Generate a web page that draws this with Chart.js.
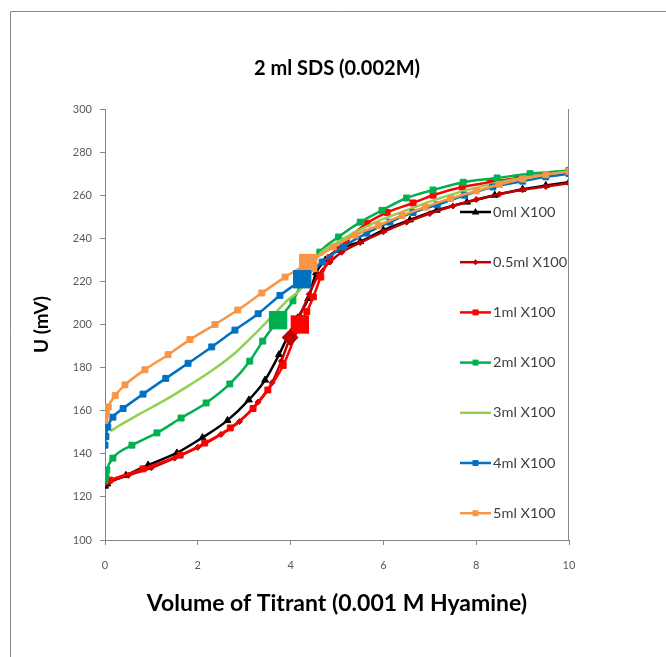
<!DOCTYPE html>
<html>
<head>
<meta charset="utf-8">
<script src="https://cdn.jsdelivr.net/npm/chart.js@4.4.1/dist/chart.umd.min.js"></script>
<style>
html,body{margin:0;padding:0;background:#fff;}
canvas{display:block;}
</style>
</head>
<body>
<canvas id="c" width="666" height="657"></canvas>
<script>
// ---------- data ----------
const seriesLabels = ['0ml X100', '0.5ml X100', '1ml X100', '2ml X100', '3ml X100', '4ml X100', '5ml X100'];

const vol0ml = [0, 0.05, 0.45, 0.93, 1.55, 2.1, 2.64, 3.1, 3.45, 3.75, 3.95, 4.15, 4.38, 4.55, 4.75, 5.0, 5.5, 6.0, 6.57, 7.15, 7.8, 8.4, 9.0, 9.5, 10];
const u0ml   = [125, 126, 130, 134.8, 140.4, 147.5, 155.5, 165, 174.2, 186, 195, 203, 212, 224, 230, 234.5, 238.5, 243.8, 248.5, 253, 256.8, 260, 262.8, 264.5, 266];

const vol05ml = [0, 0.1, 0.5, 1.0, 1.5, 2.0, 2.5, 2.9, 3.3, 3.6, 3.8, 3.99, 4.2, 4.4, 4.6, 4.85, 5.1, 5.5, 6.0, 6.5, 7.0, 7.5, 8.0, 8.5, 9.0, 9.5, 10];
const u05ml   = [126, 127, 130, 133.5, 138, 143, 149, 155, 164, 173, 183, 194, 204, 214, 223, 229, 233.5, 238, 243, 247.5, 251.5, 255, 258, 260.5, 262.5, 264, 265.5];

const vol1ml = [0, 0.1, 0.82, 1.62, 2.15, 2.7, 3.19, 3.51, 3.84, 4.2, 4.35, 4.49, 4.65, 4.85, 5.2, 5.65, 6.08, 6.64, 7.07, 7.7, 8.3, 8.9, 9.5, 10];
const u1ml   = [127, 127.8, 133, 139.4, 145, 152, 161, 169.6, 181, 200, 206, 212.8, 222, 231, 239, 247, 252, 256.4, 260, 263.8, 266, 268, 269.5, 271];

const vol2ml = [0, 0.02, 0.04, 0.17, 0.58, 1.12, 1.64, 2.18, 2.69, 3.12, 3.4, 3.73, 4.05, 4.3, 4.63, 5.03, 5.5, 5.97, 6.5, 7.07, 7.72, 8.45, 9.16, 10];
const u2ml   = [127.8, 130, 132.5, 138, 144, 149.7, 156.6, 163.6, 172.4, 183, 192.3, 202, 211, 222, 233.6, 240.6, 247.5, 253, 258.7, 262.4, 266, 268, 270, 271.5];

const vol3ml = [0.12, 0.3, 0.75, 1.3, 1.83, 2.33, 2.84, 3.27, 3.7, 3.92, 4.24, 4.6, 5.0, 5.5, 6.0, 6.5, 7.0, 7.5, 8.0, 8.5, 9.0, 9.5, 10];
const u3ml   = [150.5, 153, 158.5, 165, 172, 179, 187.5, 196.5, 206, 211, 217, 232, 238, 244, 249, 253, 257, 260.5, 263.5, 266, 268, 269.5, 271];

const vol4ml = [0, 0.02, 0.06, 0.17, 0.39, 0.82, 1.31, 1.79, 2.3, 2.8, 3.3, 3.77, 4.25, 4.68, 5.13, 5.64, 6.14, 6.64, 7.16, 7.75, 8.36, 9.0, 9.5, 10];
const u4ml   = [144, 148, 152.4, 157, 161, 167.7, 175, 182, 189.6, 197.4, 205, 213.5, 221, 229, 236, 242.4, 247.5, 252, 255.5, 260, 263.8, 266.5, 268.5, 270];

const vol5ml = [0, 0.03, 0.07, 0.22, 0.43, 0.86, 1.36, 1.83, 2.37, 2.86, 3.38, 3.88, 4.38, 4.92, 5.39, 5.89, 6.4, 6.9, 7.45, 8.0, 8.5, 9.0, 9.5, 10];
const u5ml   = [155.7, 158.5, 161.7, 167, 172, 179, 186, 193, 200, 206.7, 214.6, 222, 228.5, 236, 241.5, 246, 250.5, 254.5, 258.5, 262, 265, 267.5, 269.5, 271];

// equivalence (end) points, highlighted with big markers
const eqSeries = [1, 2, 3, 5, 6];          // index into seriesLabels
const eqVol    = [3.99, 4.2, 3.73, 4.25, 4.38];
const eqU      = [194, 200, 202, 221, 228.5];

const xTicks = [0, 2, 4, 6, 8, 10];
const yTicks = [100, 120, 140, 160, 180, 200, 220, 240, 260, 280, 300];

const chartTitle = '2 ml SDS (0.002M)';
const xTitle = 'Volume of Titrant (0.001 M Hyamine)';
const yTitle = 'U (mV)';

// ---------- styles ----------
const FONT = 'Lato';
const colors = ['#000000', '#C00000', '#FF0000', '#00B050', '#92D050', '#0070C0', '#F79646'];
const pointStyles = ['triangle', 'rectRot', 'rect', 'rect', 'circle', 'rect', 'rect'];
const pointRadii = [4, 3, 4.2, 4.2, 0, 4.2, 4.2];
const bigRadii = { rect: 13, rectRot: 8.5 };

const seriesX = [vol0ml, vol05ml, vol1ml, vol2ml, vol3ml, vol4ml, vol5ml];
const seriesY = [u0ml, u05ml, u1ml, u2ml, u3ml, u4ml, u5ml];

const datasets = seriesX.map((xs, i) => ({
  label: seriesLabels[i],
  data: xs.map((x, j) => ({ x: x, y: seriesY[i][j] })),
  showLine: true,
  borderColor: colors[i],
  backgroundColor: colors[i],
  borderWidth: 2.5,
  pointStyle: pointStyles[i],
  pointRadius: pointRadii[i],
  pointBorderWidth: 1,
  pointHoverRadius: pointRadii[i],
  cubicInterpolationMode: 'monotone',
  order: 20 - i
}));

eqSeries.forEach((s, k) => {
  datasets.push({
    label: 'eq-' + seriesLabels[s],
    isEq: true,
    data: [{ x: eqVol[k], y: eqU[k] }],
    showLine: false,
    borderColor: colors[s],
    backgroundColor: colors[s],
    pointStyle: pointStyles[s],
    pointRadius: bigRadii[pointStyles[s]],
    pointBorderWidth: 0,
    order: 0
  });
});

// ---------- plugins ----------
const framePlugin = {
  id: 'frame',
  beforeDraw(chart) {
    const ctx = chart.ctx;
    ctx.save();
    ctx.fillStyle = '#ffffff';
    ctx.fillRect(0, 0, chart.width, chart.height);
    ctx.strokeStyle = '#888888';
    ctx.lineWidth = 1;
    ctx.beginPath();
    ctx.moveTo(10.5, chart.height + 1);
    ctx.lineTo(10.5, 11.5);
    ctx.lineTo(chart.width + 1, 11.5);
    ctx.stroke();
    ctx.restore();
  },
  afterDraw(chart) {
    const a = chart.chartArea, ctx = chart.ctx;
    ctx.save();
    ctx.strokeStyle = '#868686';
    ctx.lineWidth = 1;
    ctx.beginPath();
    ctx.moveTo(Math.round(a.right) - 0.5, a.top);
    ctx.lineTo(Math.round(a.right) - 0.5, a.bottom);
    ctx.stroke();
    ctx.restore();
  }
};

function drawMarker(ctx, style, x, y, r) {
  ctx.beginPath();
  if (style === 'triangle') {
    ctx.moveTo(x, y - r);
    ctx.lineTo(x + r * 0.95, y + r * 0.6);
    ctx.lineTo(x - r * 0.95, y + r * 0.6);
    ctx.closePath();
  } else if (style === 'rectRot') {
    ctx.moveTo(x, y - r);
    ctx.lineTo(x + r, y);
    ctx.lineTo(x, y + r);
    ctx.lineTo(x - r, y);
    ctx.closePath();
  } else if (style === 'rect') {
    const s = r * Math.SQRT1_2;
    ctx.rect(x - s, y - s, 2 * s, 2 * s);
  } else {
    return;
  }
  ctx.fill();
}

const legendPlugin = {
  id: 'sideLegend',
  afterDraw(chart) {
    const a = chart.chartArea, ctx = chart.ctx;
    const x0 = a.right - 109, y0 = a.top + 103, dy = 50.2;
    ctx.save();
    chart.data.datasets.filter(d => !d.isEq).forEach((ds, i) => {
      const y = y0 + i * dy;
      ctx.strokeStyle = ds.borderColor;
      ctx.fillStyle = ds.borderColor;
      ctx.lineWidth = 2.5;
      ctx.beginPath();
      ctx.moveTo(x0, y);
      ctx.lineTo(x0 + 31, y);
      ctx.stroke();
      drawMarker(ctx, ds.pointStyle, x0 + 15.5, y, ds.pointRadius);
      ctx.save();
      ctx.fillStyle = '#404040';
      ctx.font = '13px ' + FONT;
      ctx.textBaseline = 'middle';
      ctx.textAlign = 'left';
      ctx.translate(x0 + 33, y + 0.5);
      ctx.scale(1.12, 1);
      ctx.fillText(ds.label, 0, 0);
      ctx.restore();
    });
    ctx.restore();
  }
};

// ---------- chart ----------
new Chart(document.getElementById('c'), {
  type: 'scatter',
  data: { datasets: datasets },
  plugins: [framePlugin, legendPlugin],
  options: {
    responsive: false,
    animation: false,
    events: [],
    layout: { padding: { left: 0, top: 0, bottom: 0, right: 97 } },
    plugins: {
      legend: { display: false },
      tooltip: { enabled: false },
      title: {
        display: true,
        text: chartTitle,
        fullSize: false,
        color: '#000000',
        font: { family: FONT, size: 20, weight: 'bold' },
        padding: { top: 57, bottom: 28 }
      }
    },
    scales: {
      x: {
        type: 'linear',
        min: 0, max: 10,
        afterBuildTicks: s => { s.ticks = xTicks.map(v => ({ value: v })); },
        afterFit: s => { s.height = 117; },
        grid: { display: true, drawOnChartArea: false, drawTicks: true, tickLength: 5, color: '#868686' },
        border: { display: true, color: '#868686', width: 1 },
        ticks: { color: '#595959', font: { family: FONT, size: 11 }, padding: 14 },
        title: {
          display: true, text: xTitle, color: '#000000',
          font: { family: FONT, size: 23, weight: 'bold' },
          padding: { top: 40, bottom: 40 }
        }
      },
      y: {
        type: 'linear',
        min: 100, max: 300,
        afterBuildTicks: s => { s.ticks = yTicks.map(v => ({ value: v })); },
        afterFit: s => { s.width = 105; },
        grid: { display: true, drawOnChartArea: false, drawTicks: true, tickLength: 5, color: '#868686' },
        border: { display: true, color: '#868686', width: 1 },
        ticks: { color: '#595959', font: { family: FONT, size: 11 }, padding: 8 },
        title: {
          display: true, text: yTitle, color: '#000000',
          font: { family: FONT, size: 19, weight: 'bold' },
          padding: { top: 30, bottom: 30 }
        }
      }
    }
  }
});
</script>
</body>
</html>
